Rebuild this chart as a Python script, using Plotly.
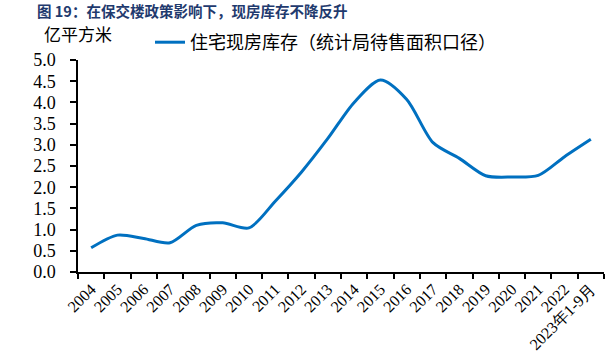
import plotly.graph_objects as go

years = ["2004", "2005", "2006", "2007", "2008", "2009", "2010", "2011", "2012", "2013",
         "2014", "2015", "2016", "2017", "2018", "2019", "2020", "2021", "2022", "2023年1-9月"]
inventory = [0.57, 0.87, 0.79, 0.69, 1.10, 1.16, 1.04, 1.67, 2.36, 3.15,
             4.00, 4.53, 4.07, 3.05, 2.68, 2.27, 2.24, 2.28, 2.72, 3.13]
y_ticks = [0.0, 0.5, 1.0, 1.5, 2.0, 2.5, 3.0, 3.5, 4.0, 4.5, 5.0]
y_tick_text = [f"{v:.1f}" for v in y_ticks]

title_text = "图 19：在保交楼政策影响下，现房库存不降反升"
series_name = "住宅现房库存（统计局待售面积口径）"
unit_text = "亿平方米"

serif = "Liberation Serif"
cjk = "Noto Sans CJK SC"

W, H = 615, 359
L, R, T, B = 78, 11, 60, 87
pw = W - L - R
ph = H - T - B

fig = go.Figure()
fig.add_trace(go.Scatter(
    x=years, y=inventory, mode="lines", name=series_name,
    line=dict(color="#0070C0", width=3, shape="spline", smoothing=0.8),
))

fig.update_layout(
    width=W, height=H,
    margin=dict(l=L, r=R, t=T, b=B, autoexpand=False),
    paper_bgcolor="white", plot_bgcolor="white",
    showlegend=True,
    title=dict(text=title_text, x=37 / W, xanchor="left", xref="container",
               y=1 - 12 / H, yanchor="middle", yref="container",
               font=dict(family=cjk, size=14.5, color="#1F3A6E", weight="bold")),
    legend=dict(orientation="h", x=(150 - L) / pw, xanchor="left",
                y=1 - 24 / H, yanchor="top", yref="container",
                font=dict(family=cjk, size=18, color="black"),
                bgcolor="rgba(0,0,0,0)", borderwidth=0),
    xaxis=dict(
        type="category", showline=True, linecolor="black", linewidth=1.5,
        ticks="outside", tickson="boundaries", ticklen=5, tickcolor="black", tickwidth=1.5,
        tickangle=-45, tickfont=dict(family=serif, size=16, color="black"),
        showgrid=False, zeroline=False, range=[-0.5, len(years) - 0.5],
    ),
    yaxis=dict(
        range=[0, 5], tickvals=y_ticks, ticktext=y_tick_text,
        showline=True, linecolor="black", linewidth=1.5,
        ticks="outside", ticklen=6, tickcolor="black", tickwidth=1.5,
        tickfont=dict(family=serif, size=18, color="black"),
        showgrid=False, zeroline=False, ticklabelstandoff=11,
    ),
    annotations=[
        dict(text=unit_text, x=(42 - L) / pw, y=(H - B - 34) / ph, xref="paper", yref="paper",
             showarrow=False, xanchor="left", yanchor="middle",
             font=dict(family=cjk, size=17, color="black")),
    ],
)

fig.write_html("out.html", config={"displayModeBar": False},
               post_script="document.body.style.margin='0';document.body.style.padding='0';")
